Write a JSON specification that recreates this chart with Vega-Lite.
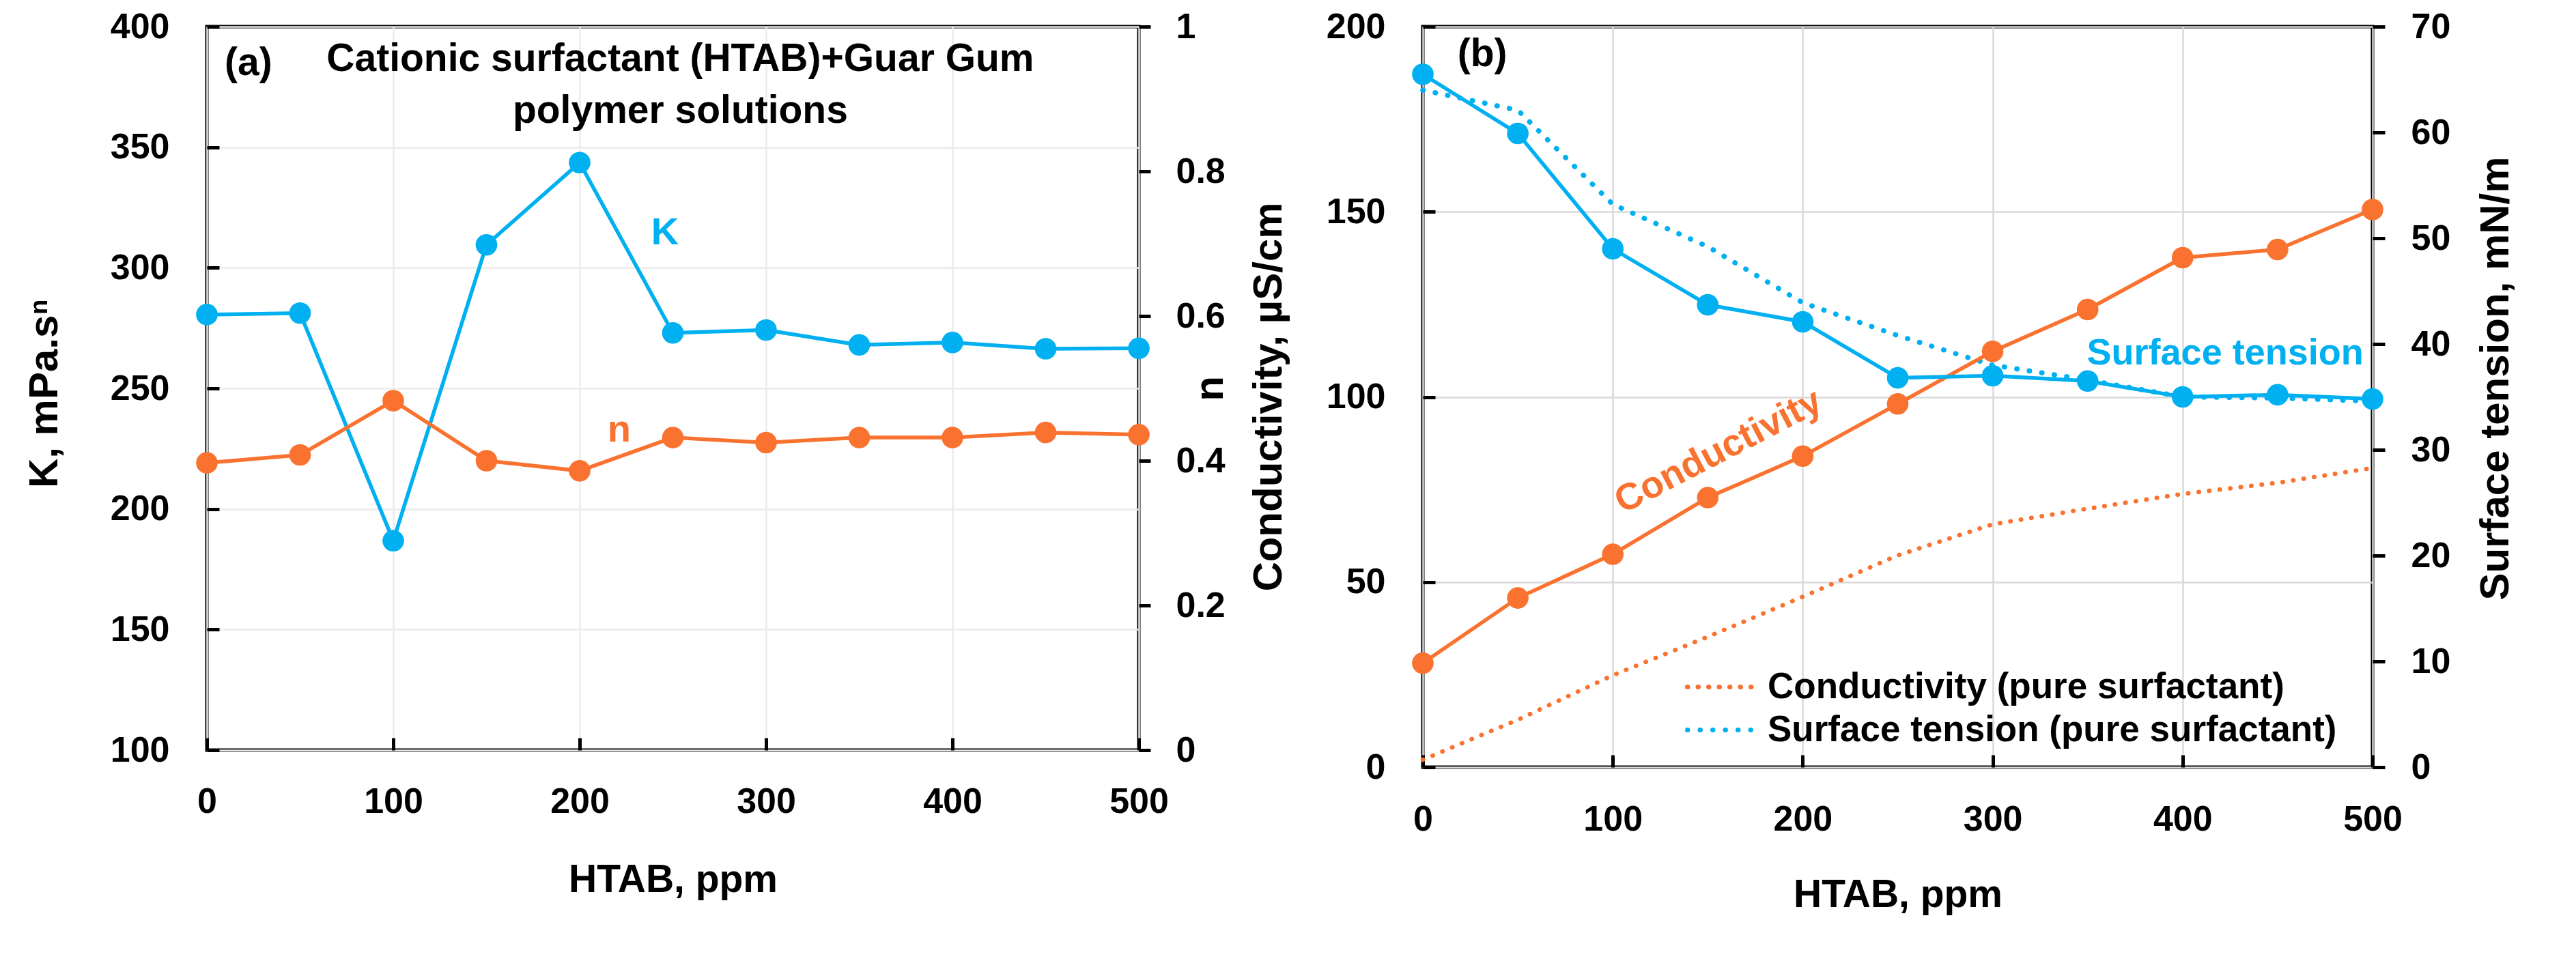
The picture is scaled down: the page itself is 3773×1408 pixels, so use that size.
{
  "$schema": "https://vega.github.io/schema/vega-lite/v6.json",
  "description": "HTAB + guar gum: (a) K and n, (b) conductivity and surface tension",
  "autosize": {"type": "pad"},
  "padding": {"left": 32, "top": 10, "right": 0, "bottom": 0},
  "background": "white",
  "datasets": {
    "rheology": [
      {"ppm": 0, "K": 280.6, "n": 0.397},
      {"ppm": 50, "K": 281.2, "n": 0.408},
      {"ppm": 100, "K": 186.8, "n": 0.483},
      {"ppm": 150, "K": 309.5, "n": 0.4},
      {"ppm": 200, "K": 343.6, "n": 0.386},
      {"ppm": 250, "K": 273.0, "n": 0.432},
      {"ppm": 300, "K": 274.2, "n": 0.425},
      {"ppm": 350, "K": 268.0, "n": 0.432},
      {"ppm": 400, "K": 269.0, "n": 0.432},
      {"ppm": 450, "K": 266.4, "n": 0.439},
      {"ppm": 500, "K": 266.6, "n": 0.436}
    ],
    "measured": [
      {"ppm": 0, "cond": 28.1, "st": 65.5},
      {"ppm": 50, "cond": 45.7, "st": 59.9},
      {"ppm": 100, "cond": 57.5, "st": 49.0},
      {"ppm": 150, "cond": 72.8, "st": 43.7},
      {"ppm": 200, "cond": 84.0, "st": 42.1},
      {"ppm": 250, "cond": 98.1, "st": 36.8},
      {"ppm": 300, "cond": 112.3, "st": 37.0},
      {"ppm": 350, "cond": 123.6, "st": 36.5},
      {"ppm": 400, "cond": 137.6, "st": 35.0},
      {"ppm": 450, "cond": 139.8, "st": 35.2},
      {"ppm": 500, "cond": 150.6, "st": 34.8}
    ],
    "pureCond": [
      {"ppm": 0, "value": 2.0, "series": "Conductivity (pure surfactant)"},
      {"ppm": 50, "value": 12.8, "series": "Conductivity (pure surfactant)"},
      {"ppm": 100, "value": 24.8, "series": "Conductivity (pure surfactant)"},
      {"ppm": 150, "value": 35.2, "series": "Conductivity (pure surfactant)"},
      {"ppm": 200, "value": 46.0, "series": "Conductivity (pure surfactant)"},
      {"ppm": 250, "value": 57.2, "series": "Conductivity (pure surfactant)"},
      {"ppm": 300, "value": 65.6, "series": "Conductivity (pure surfactant)"},
      {"ppm": 350, "value": 69.8, "series": "Conductivity (pure surfactant)"},
      {"ppm": 400, "value": 73.8, "series": "Conductivity (pure surfactant)"},
      {"ppm": 450, "value": 76.8, "series": "Conductivity (pure surfactant)"},
      {"ppm": 500, "value": 80.8, "series": "Conductivity (pure surfactant)"}
    ],
    "pureST": [
      {"ppm": 0, "value": 64.0, "series": "Surface tension (pure surfactant)"},
      {"ppm": 50, "value": 62.1, "series": "Surface tension (pure surfactant)"},
      {"ppm": 100, "value": 53.2, "series": "Surface tension (pure surfactant)"},
      {"ppm": 150, "value": 49.2, "series": "Surface tension (pure surfactant)"},
      {"ppm": 200, "value": 43.9, "series": "Surface tension (pure surfactant)"},
      {"ppm": 250, "value": 40.8, "series": "Surface tension (pure surfactant)"},
      {"ppm": 300, "value": 38.0, "series": "Surface tension (pure surfactant)"},
      {"ppm": 350, "value": 36.6, "series": "Surface tension (pure surfactant)"},
      {"ppm": 400, "value": 35.0, "series": "Surface tension (pure surfactant)"},
      {"ppm": 450, "value": 34.9, "series": "Surface tension (pure surfactant)"},
      {"ppm": 500, "value": 34.6, "series": "Surface tension (pure surfactant)"}
    ]
  },
  "hconcat": [
    {
      "width": 1365,
      "height": 1060,
      "layer": [
        {
          "data": {"name": "rheology"},
          "mark": {"type": "line", "color": "#00B0F0", "strokeWidth": 5.5, "point": {"filled": true, "size": 1000, "color": "#00B0F0"}},
          "encoding": {
            "x": {
              "field": "ppm", "type": "quantitative",
              "scale": {"domain": [0, 500], "nice": false},
              "axis": {
                "values": [0, 100, 200, 300, 400, 500], "title": "HTAB, ppm",
                "tickSize": -18, "labelPadding": 68, "grid": true, "gridColor": "#EBEBEB",
                "titleY": 190, "titleBaseline": "middle", "titleFontSize": 57
              }
            },
            "y": {
              "field": "K", "type": "quantitative",
              "scale": {"domain": [100, 400], "nice": false, "zero": false},
              "axis": {
                "orient": "left", "values": [100, 150, 200, 250, 300, 350, 400], "title": "K, mPa.sⁿ",
                "tickSize": -18, "labelPadding": 73, "grid": true, "gridColor": "#EBEBEB",
                "titleAngle": -90, "titleX": -238, "titleY": 537, "titleAlign": "center", "titleBaseline": "middle"
              }
            }
          }
        },
        {
          "data": {"name": "rheology"},
          "mark": {"type": "line", "color": "#FA7230", "strokeWidth": 5.5, "point": {"filled": true, "size": 1000, "color": "#FA7230"}},
          "encoding": {
            "x": {"field": "ppm", "type": "quantitative"},
            "y": {
              "field": "n", "type": "quantitative",
              "scale": {"domain": [0, 1], "nice": false},
              "axis": {
                "orient": "right", "values": [0, 0.2, 0.4, 0.6, 0.8, 1], "format": "~g", "title": "n",
                "tickSize": 17, "labelPadding": 37, "grid": false,
                "titleAngle": -90, "titleX": 104, "titleY": 530, "titleAlign": "center", "titleBaseline": "middle"
              }
            }
          }
        },
        {
          "data": {"values": [
            {"x": 22.3, "y": 384.7, "t": "(a)"},
            {"x": 254, "y": 386.4, "t": "Cationic surfactant (HTAB)+Guar Gum"},
            {"x": 254, "y": 364.9, "t": "polymer solutions"}
          ]},
          "mark": {"type": "text", "fontSize": 57, "fontWeight": "bold", "color": "black", "baseline": "middle"},
          "encoding": {
            "x": {"field": "x", "type": "quantitative"},
            "y": {"field": "y", "type": "quantitative", "scale": {"domain": [100, 400], "nice": false, "zero": false}, "axis": null},
            "text": {"field": "t"}
          }
        },
        {
          "data": {"values": [{"x": 245.8, "y": 314.5, "t": "K"}]},
          "mark": {"type": "text", "fontSize": 56, "fontWeight": "bold", "color": "#00B0F0", "baseline": "middle"},
          "encoding": {
            "x": {"field": "x", "type": "quantitative"},
            "y": {"field": "y", "type": "quantitative", "scale": {"domain": [100, 400], "nice": false, "zero": false}, "axis": null},
            "text": {"field": "t"}
          }
        },
        {
          "data": {"values": [{"x": 221.2, "y": 232.8, "t": "n"}]},
          "mark": {"type": "text", "fontSize": 56, "fontWeight": "bold", "color": "#FA7230", "baseline": "middle"},
          "encoding": {
            "x": {"field": "x", "type": "quantitative"},
            "y": {"field": "y", "type": "quantitative", "scale": {"domain": [100, 400], "nice": false, "zero": false}, "axis": null},
            "text": {"field": "t"}
          }
        }
      ],
      "resolve": {"scale": {"y": "independent"}, "axis": {"y": "independent"}}
    },
    {
      "width": 1391,
      "height": 1085,
      "layer": [
        {
          "data": {"name": "pureCond"},
          "mark": {"type": "line", "strokeWidth": 6.5, "strokeCap": "round"},
          "encoding": {
            "x": {
              "field": "ppm", "type": "quantitative",
              "scale": {"domain": [0, 500], "nice": false},
              "axis": {
                "values": [0, 100, 200, 300, 400, 500], "title": "HTAB, ppm",
                "tickSize": -18, "labelPadding": 69, "grid": true, "gridColor": "#D9D9D9",
                "titleY": 187, "titleBaseline": "middle", "titleFontSize": 57
              }
            },
            "y": {
              "field": "value", "type": "quantitative",
              "scale": {"domain": [0, 200], "nice": false},
              "axis": {
                "orient": "left", "values": [0, 50, 100, 150, 200], "title": "Conductivity, µS/cm",
                "tickSize": -18, "labelPadding": 73, "grid": true, "gridColor": "#D9D9D9",
                "titleAngle": -90, "titleX": -226, "titleY": 542, "titleAlign": "center", "titleBaseline": "middle"
              }
            },
            "color": {
              "field": "series", "type": "nominal",
              "scale": {"domain": ["Conductivity (pure surfactant)", "Surface tension (pure surfactant)"], "range": ["#FA7230", "#00B0F0"]},
              "legend": {
                "title": null, "orient": "none", "legendX": 384, "legendY": 936,
                "symbolType": "stroke", "symbolSize": 10000, "symbolStrokeWidth": 7,
                "labelFontSize": 53, "labelFontWeight": "bold", "labelColor": "black", "labelOffset": 14,
                "labelLimit": 2000, "clipHeight": 63, "rowPadding": 0, "padding": 0,
                "encode": {"symbols": {"update": {"strokeCap": {"value": "round"}}}}
              }
            },
            "strokeDash": {
              "field": "series", "type": "nominal",
              "scale": {"domain": ["Conductivity (pure surfactant)", "Surface tension (pure surfactant)"], "range": [[0.5, 15], [0.5, 18]]},
              "legend": null
            }
          }
        },
        {
          "data": {"name": "pureST"},
          "mark": {"type": "line", "strokeWidth": 7.5, "strokeCap": "round"},
          "encoding": {
            "x": {"field": "ppm", "type": "quantitative"},
            "y": {"field": "value", "type": "quantitative", "scale": {"domain": [0, 70], "nice": false}, "axis": null},
            "color": {"field": "series", "type": "nominal"},
            "strokeDash": {"field": "series", "type": "nominal", "legend": null}
          }
        },
        {
          "data": {"name": "measured"},
          "mark": {"type": "line", "color": "#FA7230", "strokeWidth": 5.5, "point": {"filled": true, "size": 1000, "color": "#FA7230"}},
          "encoding": {
            "x": {"field": "ppm", "type": "quantitative"},
            "y": {"field": "cond", "type": "quantitative", "scale": {"domain": [0, 200], "nice": false}, "axis": null}
          }
        },
        {
          "data": {"name": "measured"},
          "mark": {"type": "line", "color": "#00B0F0", "strokeWidth": 5.5, "point": {"filled": true, "size": 1000, "color": "#00B0F0"}},
          "encoding": {
            "x": {"field": "ppm", "type": "quantitative"},
            "y": {
              "field": "st", "type": "quantitative",
              "scale": {"domain": [0, 70], "nice": false},
              "axis": {
                "orient": "right", "values": [0, 10, 20, 30, 40, 50, 60, 70], "title": "Surface tension, mN/m",
                "tickSize": 18, "labelPadding": 38, "grid": false,
                "titleAngle": -90, "titleX": 180, "titleY": 515, "titleAlign": "center", "titleBaseline": "middle"
              }
            }
          }
        },
        {
          "data": {"values": [{"x": 31.3, "y": 192.4, "t": "(b)"}]},
          "mark": {"type": "text", "fontSize": 57, "fontWeight": "bold", "color": "black", "baseline": "middle"},
          "encoding": {
            "x": {"field": "x", "type": "quantitative"},
            "y": {"field": "y", "type": "quantitative", "scale": {"domain": [0, 200], "nice": false}, "axis": null},
            "text": {"field": "t"}
          }
        },
        {
          "data": {"values": [{"x": 155.6, "y": 85.3, "t": "Conductivity"}]},
          "mark": {"type": "text", "fontSize": 55, "fontWeight": "bold", "color": "#FA7230", "baseline": "middle", "angle": -27.5},
          "encoding": {
            "x": {"field": "x", "type": "quantitative"},
            "y": {"field": "y", "type": "quantitative", "scale": {"domain": [0, 200], "nice": false}, "axis": null},
            "text": {"field": "t"}
          }
        },
        {
          "data": {"values": [{"x": 422.4, "y": 111.7, "t": "Surface tension"}]},
          "mark": {"type": "text", "fontSize": 54, "fontWeight": "bold", "color": "#00B0F0", "baseline": "middle"},
          "encoding": {
            "x": {"field": "x", "type": "quantitative"},
            "y": {"field": "y", "type": "quantitative", "scale": {"domain": [0, 200], "nice": false}, "axis": null},
            "text": {"field": "t"}
          }
        }
      ],
      "resolve": {"scale": {"y": "independent"}, "axis": {"y": "independent"}}
    }
  ],
  "spacing": 416,
  "bounds": "flush",
  "resolve": {"scale": {"color": "independent", "strokeDash": "independent"}, "legend": {"color": "independent", "strokeDash": "independent"}},
  "config": {
    "font": "Liberation Sans",
    "view": {"stroke": "black", "strokeWidth": 5},
    "axis": {
      "domain": false,
      "tickColor": "black", "tickWidth": 5,
      "gridWidth": 2.5,
      "labelFont": "Liberation Sans", "labelFontSize": 52, "labelFontWeight": "bold", "labelColor": "black",
      "labelFlush": false, "labelOverlap": false, "labelBaseline": "middle",
      "titleFont": "Liberation Sans", "titleFontSize": 60, "titleFontWeight": "bold", "titleColor": "black"
    },
    "axisX": {"labelBaseline": "top"},
    "text": {"font": "Liberation Sans"},
    "legend": {"labelFont": "Liberation Sans"}
  }
}
